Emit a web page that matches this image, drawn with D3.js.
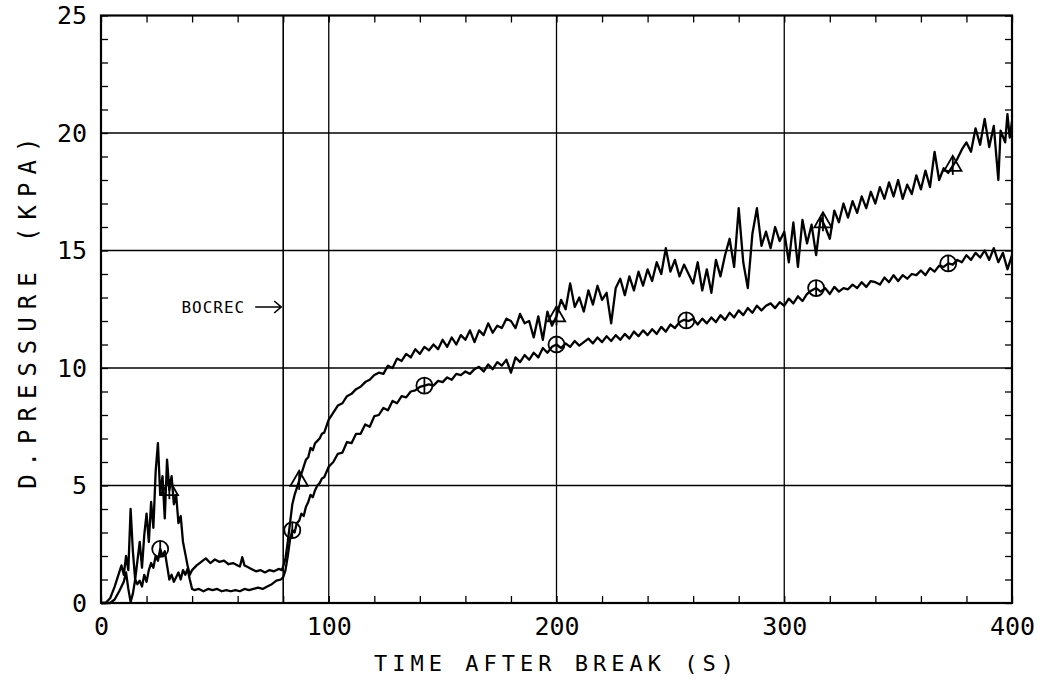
<!DOCTYPE html>
<html><head><meta charset="utf-8">
<script src="https://cdn.jsdelivr.net/npm/d3@7"></script>
<style>
html,body{margin:0;padding:0;background:#fff;}
svg{display:block;}
</style></head>
<body>
<svg id="chart" width="1046" height="681"></svg>
<script>
// ---- data ----
const xTickLabels = [0, 100, 200, 300, 400];
const yTickLabels = [0, 5, 10, 15, 20, 25];
const xGridLines = [100, 200, 300];
const yGridLines = [5, 10, 15, 20];
const bocrecTime = 80;
const xTitle = "TIME AFTER BREAK (S)";
const yTitle = "D.PRESSURE (KPA)";
const bocrecLabel = "BOCREC";

// series with triangle markers: [time (s), pressure (kPa)]
const seriesTriangle = [
[0,0],[2,0],[4,0.2],[6,0.7],[8,1.3],[9,1.6],[10,1.2],[11,2.0],[12,1.4],[13,4.0],[14,2.2],[15,1.0],[16,1.8],[17,2.6],[18,1.5],[19,2.9],
[20,3.8],[21,2.6],[22,4.3],[23,3.2],[24,5.6],[25,6.8],[26,4.6],[27,5.4],[28,3.6],[29,6.1],[30,4.8],[31,5.4],[32,4.2],[33,4.6],[34,3.4],
[35,3.7],[36,2.6],[37,2.1],[38,1.6],[39,1.2],[40,1.4],[42,1.6],[44,1.75],[46,1.9],[48,1.7],[50,1.85],[52,1.75],[54,1.8],[56,1.65],
[58,1.7],[60,1.6],[61,1.55],[62,1.95],[63,1.6],[64,1.55],[66,1.45],[68,1.35],[70,1.4],[72,1.3],[74,1.4],[76,1.35],[78,1.45],[79.5,1.4],
[81,1.9],[82,2.6],[83,3.4],[84,4.2],[85,4.6],[86,4.9],[87,5.2],[88,5.5],[89,5.8],[90,6.1],[91,6.2],[92,6.6],[93,6.5],[94,6.8],[95,6.9],
[96,7.0],[97,7.2],[98,7.25],[100,7.8],[102,8.1],[104,8.4],[106,8.5],[108,8.8],[110,8.9],[112,9.1],[114,9.2],[116,9.4],[118,9.5],
[120,9.7],[122,9.8],[124,9.75],[126,10.1],[128,10.0],[130,10.4],[132,10.3],[134,10.6],[136,10.45],[138,10.8],[140,10.6],[142,10.9],
[144,10.75],[146,11.0],[148,10.8],[150,11.2],[152,10.9],[154,11.3],[156,11.0],[158,11.4],[160,11.2],[162,11.6],[164,11.1],[166,11.6],
[168,11.4],[170,11.9],[172,11.5],[174,11.8],[176,11.7],[178,12.1],[180,12.0],[182,11.7],[184,12.3],[186,11.9],[188,12.0],[190,11.3],
[192,12.2],[194,11.2],[196,12.4],[198,11.8],[200,12.2],[202,12.9],[204,12.5],[206,13.6],[208,12.6],[210,13.0],[212,12.4],[214,13.3],
[216,12.7],[218,13.5],[220,12.9],[222,13.2],[224,11.9],[226,13.4],[228,13.8],[230,13.1],[232,13.9],[234,13.3],[236,14.1],[238,13.5],
[240,14.2],[242,13.7],[244,14.5],[246,14.0],[248,15.1],[250,14.1],[252,14.6],[254,13.9],[256,14.4],[258,14.0],[260,13.6],[262,14.5],
[264,13.3],[266,14.2],[268,13.2],[270,14.6],[272,13.9],[274,14.8],[276,15.5],[278,14.3],[280,16.8],[282,14.5],[284,13.4],[286,15.7],
[288,16.8],[290,15.2],[292,15.8],[294,15.1],[296,16.0],[298,15.4],[300,15.8],[302,14.5],[304,16.2],[306,14.3],[308,16.3],[310,15.3],
[312,16.1],[314,14.8],[316,16.4],[318,16.0],[320,15.5],[322,16.7],[324,16.2],[326,17.0],[328,16.4],[330,17.1],[332,16.6],[334,17.3],
[336,16.8],[338,17.5],[340,17.0],[342,17.7],[344,17.2],[346,17.9],[348,17.3],[350,18.0],[352,17.2],[354,17.8],[356,17.4],[358,18.2],
[360,17.6],[362,18.4],[364,17.7],[366,19.2],[368,18.0],[370,18.5],[372,18.3],[374,18.6],[376,18.9],[378,19.3],[380,19.6],[382,19.2],
[384,20.2],[386,19.5],[388,20.6],[390,19.4],[392,20.3],[394,18.0],[395,20.1],[397,19.6],[398,20.8],[399,19.8],[400,20.5]
];

// series with circle markers
const seriesCircle = [
[0,0],[4,0],[6,0.15],[8,0.5],[10,0.9],[11,1.3],[12,0.6],[13,0.05],[14,0.4],[15,1.0],[16,0.8],[17,0.95],[18,0.7],[19,1.2],[20,0.9],
[21,1.4],[22,1.7],[23,1.5],[24,2.0],[25,1.8],[26,2.3],[27,2.0],[28,2.2],[29,1.6],[30,1.0],[31,1.2],[32,0.9],[33,1.1],[34,1.3],[35,1.0],
[36,1.4],[37,1.2],[38,1.45],[39,1.0],[40,0.6],[41,0.55],[43,0.6],[45,0.5],[47,0.6],[49,0.55],[51,0.6],[53,0.5],[55,0.55],[57,0.5],
[59,0.55],[61,0.5],[63,0.6],[65,0.55],[67,0.6],[69,0.65],[71,0.6],[73,0.7],[75,0.8],[77,0.95],[79,1.0],[80,1.1],[81,1.4],[82,2.0],
[83,2.7],[84,3.1],[85,3.0],[86,3.4],[87,3.5],[88,3.8],[89,3.7],[90,4.1],[91,4.3],[92,4.6],[93,4.5],[94,4.8],[95,5.0],[96,5.1],[97,5.3],
[98,5.35],[100,5.8],[102,6.0],[104,6.35],[106,6.4],[108,6.85],[110,6.8],[112,7.2],[114,7.2],[116,7.6],[118,7.5],[120,7.95],[122,8.0],
[124,8.3],[126,8.2],[128,8.6],[130,8.5],[132,8.8],[134,8.75],[136,9.0],[138,9.05],[140,9.2],[142,9.25],[144,9.3],[146,9.25],[148,9.45],
[150,9.4],[152,9.6],[154,9.5],[156,9.75],[158,9.7],[160,9.85],[162,9.75],[164,9.95],[166,10.05],[168,9.85],[170,10.15],[172,9.95],
[174,10.25],[176,10.1],[178,10.35],[180,9.8],[182,10.45],[184,10.25],[186,10.55],[188,10.35],[190,10.65],[192,10.45],[194,10.85],[196,10.65],
[198,10.9],[200,11.0],[202,10.85],[204,11.05],[206,10.9],[208,11.15],[210,10.95],[212,11.1],[214,11.25],[216,11.05],[218,11.3],[220,11.1],
[222,11.35],[224,11.15],[226,11.4],[228,11.2],[230,11.45],[232,11.25],[234,11.55],[236,11.35],[238,11.6],[240,11.4],[242,11.65],[244,11.45],
[246,11.75],[248,11.55],[250,11.85],[252,11.7],[254,11.95],[256,12.05],[258,12.0],[260,12.1],[262,11.85],[264,12.1],[266,11.9],[268,12.15],
[270,11.95],[272,12.25],[274,12.05],[276,12.35],[278,12.15],[280,12.45],[282,12.25],[284,12.55],[286,12.35],[288,12.65],[290,12.45],[292,12.65],
[294,12.75],[296,12.55],[298,12.8],[300,12.65],[302,12.95],[304,12.75],[306,13.05],[308,12.85],[310,13.15],[312,13.3],[314,13.4],[316,13.25],
[318,13.4],[320,13.15],[322,13.45],[324,13.25],[326,13.4],[328,13.35],[330,13.55],[332,13.4],[334,13.65],[336,13.45],[338,13.7],[340,13.65],
[342,13.55],[344,13.85],[346,13.65],[348,13.95],[350,13.7],[352,13.95],[354,13.8],[356,14.0],[358,13.95],[360,14.15],[362,13.95],[364,14.25],
[366,14.1],[368,14.35],[370,14.3],[372,14.45],[374,14.4],[376,14.6],[378,14.5],[380,14.8],[382,14.6],[384,14.9],[386,14.7],[388,15.0],
[390,14.6],[392,15.1],[394,14.5],[396,14.9],[398,14.2],[400,14.8]
];

const triangleMarkerTimes = [30, 87, 200, 317, 374];
const circleMarkerTimes = [26, 84, 142, 200, 257, 314, 372];

// ---- layout ----
const svg = d3.select("#chart");
const L = 101, R = 1012, T = 15.5, B = 603;
const x = d3.scaleLinear().domain([0, 400]).range([L, R]);
const y = d3.scaleLinear().domain([0, 25]).range([B, T]);
const FONT = "'DejaVu Sans Mono', monospace";

// grid
const g = svg.append("g");
g.selectAll("line.gx").data(xGridLines).enter().append("line")
  .attr("x1", d => x(d)).attr("x2", d => x(d)).attr("y1", T).attr("y2", B)
  .attr("stroke", "#000").attr("stroke-width", 1.3);
g.selectAll("line.gy").data(yGridLines).enter().append("line")
  .attr("x1", L).attr("x2", R).attr("y1", d => y(d)).attr("y2", d => y(d))
  .attr("stroke", "#000").attr("stroke-width", 1.3);
// BOCREC line
g.append("line").attr("x1", x(bocrecTime)).attr("x2", x(bocrecTime)).attr("y1", T).attr("y2", B)
  .attr("stroke", "#000").attr("stroke-width", 1.6);

// axes
function styleAxis(sel, showLabels) {
  sel.select(".domain").remove();
  sel.selectAll(".tick line").attr("stroke", "#000").attr("stroke-width", 1.3);
  sel.selectAll(".tick text").attr("font-family", FONT).attr("font-size", 25).attr("fill", "#000");
  if (!showLabels) sel.selectAll(".tick text").remove();
}
const xMinor = d3.range(0, 401, 20);
const yMinor = d3.range(0, 26, 1);
const fmtX = d => xTickLabels.includes(d) ? String(d) : "";
const fmtY = d => yTickLabels.includes(d) ? String(d) : "";

svg.append("g").attr("transform", `translate(0,${B})`)
  .call(d3.axisBottom(x).tickValues(xMinor).tickSize(-7).tickPadding(14).tickFormat(fmtX))
  .call(s => styleAxis(s, true));
svg.append("g").attr("transform", `translate(0,${T})`)
  .call(d3.axisTop(x).tickValues(xMinor).tickSize(-7).tickFormat(() => ""))
  .call(s => styleAxis(s, false));
svg.append("g").attr("transform", `translate(${L},0)`)
  .call(d3.axisLeft(y).tickValues(yMinor).tickSize(-7).tickPadding(14).tickFormat(fmtY))
  .call(s => styleAxis(s, true));
svg.append("g").attr("transform", `translate(${R},0)`)
  .call(d3.axisRight(y).tickValues(yMinor).tickSize(-7).tickFormat(() => ""))
  .call(s => styleAxis(s, false));

// frame
svg.append("rect").attr("x", L).attr("y", T).attr("width", R - L).attr("height", B - T)
  .attr("fill", "none").attr("stroke", "#000").attr("stroke-width", 2.2);

// series lines
const line = d3.line().x(d => x(d[0])).y(d => y(d[1]));
[seriesTriangle, seriesCircle].forEach(s => {
  svg.append("path").datum(s).attr("d", line)
    .attr("fill", "none").attr("stroke", "#000").attr("stroke-width", 2.3).attr("stroke-linejoin", "round");
});

// markers
function valueAt(series, t) {
  const i = d3.bisector(d => d[0]).left(series, t);
  if (i <= 0) return series[0][1];
  if (i >= series.length) return series[series.length - 1][1];
  const a = series[i - 1], b = series[i];
  return a[1] + (b[1] - a[1]) * (t - a[0]) / (b[0] - a[0]);
}
const mg = svg.append("g").attr("fill", "none").attr("stroke", "#000").attr("stroke-width", 1.8);
circleMarkerTimes.forEach(t => {
  const cx = x(t), cy = y(valueAt(seriesCircle, t));
  mg.append("circle").attr("cx", cx).attr("cy", cy).attr("r", 8);
  mg.append("line").attr("x1", cx).attr("x2", cx).attr("y1", cy - 8).attr("y2", cy + 8);
});
const tri = d3.symbol().type(d3.symbolTriangle).size(130);
triangleMarkerTimes.forEach(t => {
  const cx = x(t), cy = y(valueAt(seriesTriangle, t));
  mg.append("path").attr("d", tri()).attr("transform", `translate(${cx},${cy})`);
  mg.append("line").attr("x1", cx).attr("x2", cx).attr("y1", cy - 9).attr("y2", cy + 9);
});

// BOCREC annotation
const bx = x(bocrecTime);
svg.append("text").attr("x", bx - 38).attr("y", 313).attr("text-anchor", "end")
  .attr("font-family", FONT).attr("font-size", 16).attr("letter-spacing", 1).text(bocrecLabel);
svg.append("path").attr("d", `M${bx - 28},307 L${bx - 2},307 M${bx - 9},301 L${bx - 2},307 L${bx - 9},313`)
  .attr("fill", "none").attr("stroke", "#000").attr("stroke-width", 1.6);

// axis titles
svg.append("text").attr("x", (L + R) / 2).attr("y", 671).attr("text-anchor", "middle")
  .attr("font-family", FONT).attr("font-size", 22).attr("letter-spacing", 5).text(xTitle);
svg.append("text").attr("transform", `translate(36,${(T + B) / 2}) rotate(-90)`).attr("text-anchor", "middle")
  .attr("font-family", FONT).attr("font-size", 24).attr("letter-spacing", 8).text(yTitle);
</script>
</body></html>
